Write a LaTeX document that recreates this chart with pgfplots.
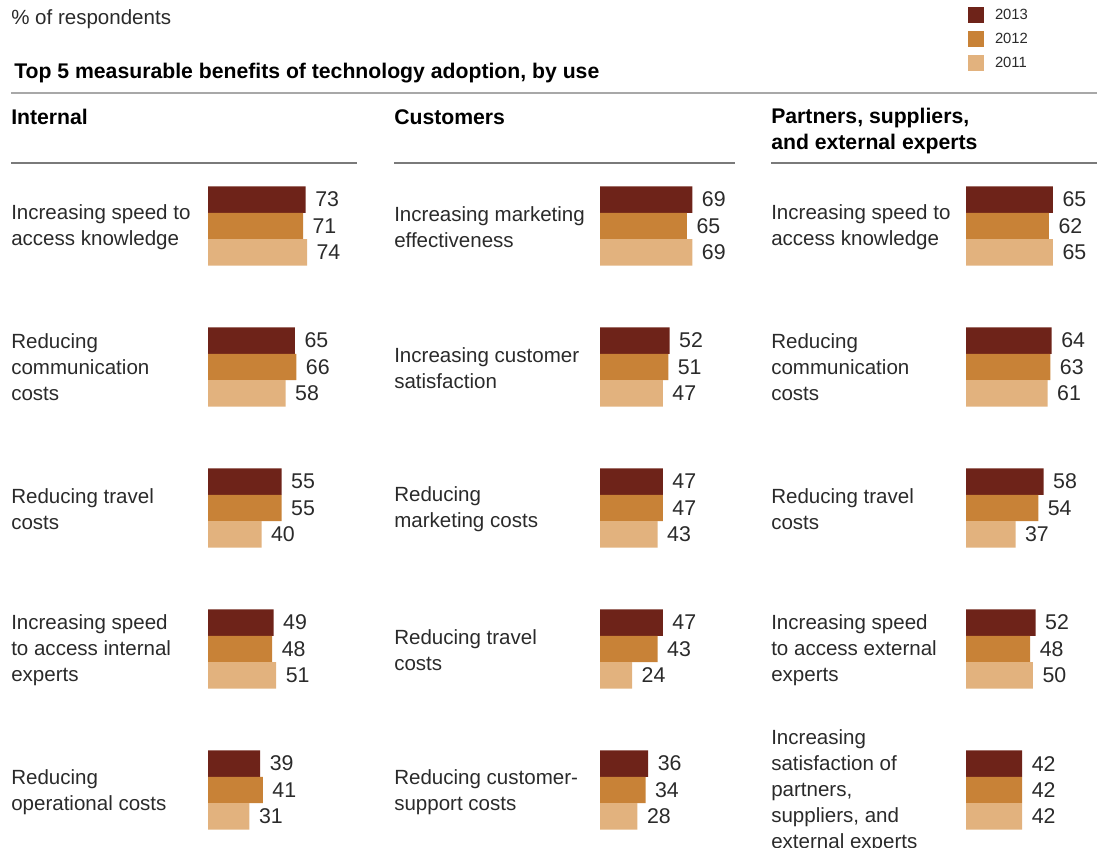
\documentclass[border=0pt]{standalone}
\usepackage{pgfplots}
\pgfplotsset{compat=1.18}
\usepackage{pgfplotstable}
\usepackage{fontspec}
\setmainfont{Liberation Sans}
\definecolor{c13}{HTML}{6E2319}
\definecolor{c12}{HTML}{C88237}
\definecolor{c11}{HTML}{E2B27E}
\definecolor{txt}{HTML}{2A2A2A}
\definecolor{rulea}{HTML}{A8A8A8}
\definecolor{ruleb}{HTML}{7A7A7A}

\pgfplotstableread{
g y13 y12 y11
4 73 71 74
3 65 66 58
2 55 55 40
1 49 48 51
0 39 41 31
}\internaldata
\pgfplotstableread{
g y13 y12 y11
4 69 65 69
3 52 51 47
2 47 47 43
1 47 43 24
0 36 34 28
}\customerdata
\pgfplotstableread{
g y13 y12 y11
4 65 62 65
3 64 63 61
2 58 54 37
1 52 48 50
0 42 42 42
}\partnerdata

\pgfplotsset{panel/.style={
  hide axis, clip=false,
  x=1.0035pt, y=105.75pt,
  xmin=0, xmax=80, ymin=-0.35, ymax=4.35,
  anchor=south west,
  xbar, bar width=19.8pt,
  point meta=x,
  /pgf/number format/assume math mode=true,
  nodes near coords,
  every node near coord/.append style={font=\fontsize{16}{18}\selectfont, text=txt, anchor=west, inner sep=0pt, xshift=7pt},
  legend image code/.code={\fill[##1] (0pt,-6pt) rectangle (12pt,6pt); \path (20.25pt,0pt);},
}}

\newcommand{\lab}{\fontsize{15.4}{19.5}\selectfont\color{txt}}
\newcommand{\hd}{\fontsize{15.9}{19.5}\selectfont\bfseries}

\begin{document}
\begin{tikzpicture}[x=0.75pt,y=-0.75pt]
\path[use as bounding box] (0,0) rectangle (1103,848);
\coordinate (P1) at (208,839.35);
\coordinate (P2) at (600,839.35);
\coordinate (P3) at (966,839.35);

\node[anchor=west, inner sep=0pt, font=\lab] at (11,19) {\% of respondents};
\node[anchor=west, inner sep=0pt, font=\hd] at (14,73) {Top 5 measurable benefits of technology adoption, by use};
\draw[rulea, line width=1.1pt] (11,93) -- (1097,93);

\node[anchor=west, inner sep=0pt, font=\hd] at (11,117) {Internal};
\node[anchor=west, inner sep=0pt, font=\hd] at (394,117) {Customers};
\node[anchor=west, inner sep=0pt, font=\hd, align=left] at (771,131.5) {Partners, suppliers,\\and external experts};
\draw[ruleb, line width=1.1pt] (11,163) -- (357,163);
\draw[ruleb, line width=1.1pt] (394,163) -- (735,163);
\draw[ruleb, line width=1.1pt] (771,163) -- (1097,163);

% panel 1 labels
\node[anchor=west, inner sep=0pt, font=\lab, align=left] at (11,227) {Increasing speed to\\access knowledge};
\node[anchor=west, inner sep=0pt, font=\lab, align=left] at (11,367) {Reducing\\communication\\costs};
\node[anchor=west, inner sep=0pt, font=\lab, align=left] at (11,509) {Reducing travel\\costs};
\node[anchor=west, inner sep=0pt, font=\lab, align=left] at (11,650) {Increasing speed\\to access internal\\experts};
\node[anchor=west, inner sep=0pt, font=\lab, align=left] at (11,792) {Reducing\\operational costs};
% panel 2 labels
\node[anchor=west, inner sep=0pt, font=\lab, align=left] at (394,227) {Increasing marketing\\effectiveness};
\node[anchor=west, inner sep=0pt, font=\lab, align=left] at (394,368) {Increasing customer\\satisfaction};
\node[anchor=west, inner sep=0pt, font=\lab, align=left] at (394,509) {Reducing\\marketing costs};
\node[anchor=west, inner sep=0pt, font=\lab, align=left] at (394,650) {Reducing travel\\costs};
\node[anchor=west, inner sep=0pt, font=\lab, align=left] at (394,792) {Reducing customer-\\support costs};
% panel 3 labels
\node[anchor=west, inner sep=0pt, font=\lab, align=left] at (771,227) {Increasing speed to\\access knowledge};
\node[anchor=west, inner sep=0pt, font=\lab, align=left] at (771,367) {Reducing\\communication\\costs};
\node[anchor=west, inner sep=0pt, font=\lab, align=left] at (771,509) {Reducing travel\\costs};
\node[anchor=west, inner sep=0pt, font=\lab, align=left] at (771,650) {Increasing speed\\to access external\\experts};
\node[anchor=west, inner sep=0pt, font=\lab, align=left] at (771,791) {Increasing\\satisfaction of\\partners,\\suppliers, and\\external experts};

\begin{axis}[panel, at={(P1)}]
\addplot[fill=c13, draw=none, bar shift=19.8pt] table[x=y13, y=g] {\internaldata};
\addplot[fill=c12, draw=none, bar shift=0pt] table[x=y12, y=g] {\internaldata};
\addplot[fill=c11, draw=none, bar shift=-19.8pt] table[x=y11, y=g] {\internaldata};
\end{axis}

\begin{axis}[panel, at={(P2)}]
\addplot[fill=c13, draw=none, bar shift=19.8pt] table[x=y13, y=g] {\customerdata};
\addplot[fill=c12, draw=none, bar shift=0pt] table[x=y12, y=g] {\customerdata};
\addplot[fill=c11, draw=none, bar shift=-19.8pt] table[x=y11, y=g] {\customerdata};
\end{axis}

\begin{axis}[panel, at={(P3)},
  legend style={at={(axis description cs:0.0187,1.256)}, anchor=north west, draw=none, fill=none,
    inner sep=0pt, outer sep=0pt, row sep=6pt, font=\fontsize{11.1}{12}\selectfont\color{txt},
    nodes={inner sep=0pt}},
  legend cell align=left]
\addplot[fill=c13, draw=none, bar shift=19.8pt] table[x=y13, y=g] {\partnerdata};
\addplot[fill=c12, draw=none, bar shift=0pt] table[x=y12, y=g] {\partnerdata};
\addplot[fill=c11, draw=none, bar shift=-19.8pt] table[x=y11, y=g] {\partnerdata};
\legend{2013,2012,2011}
\end{axis}
\end{tikzpicture}
\end{document}
